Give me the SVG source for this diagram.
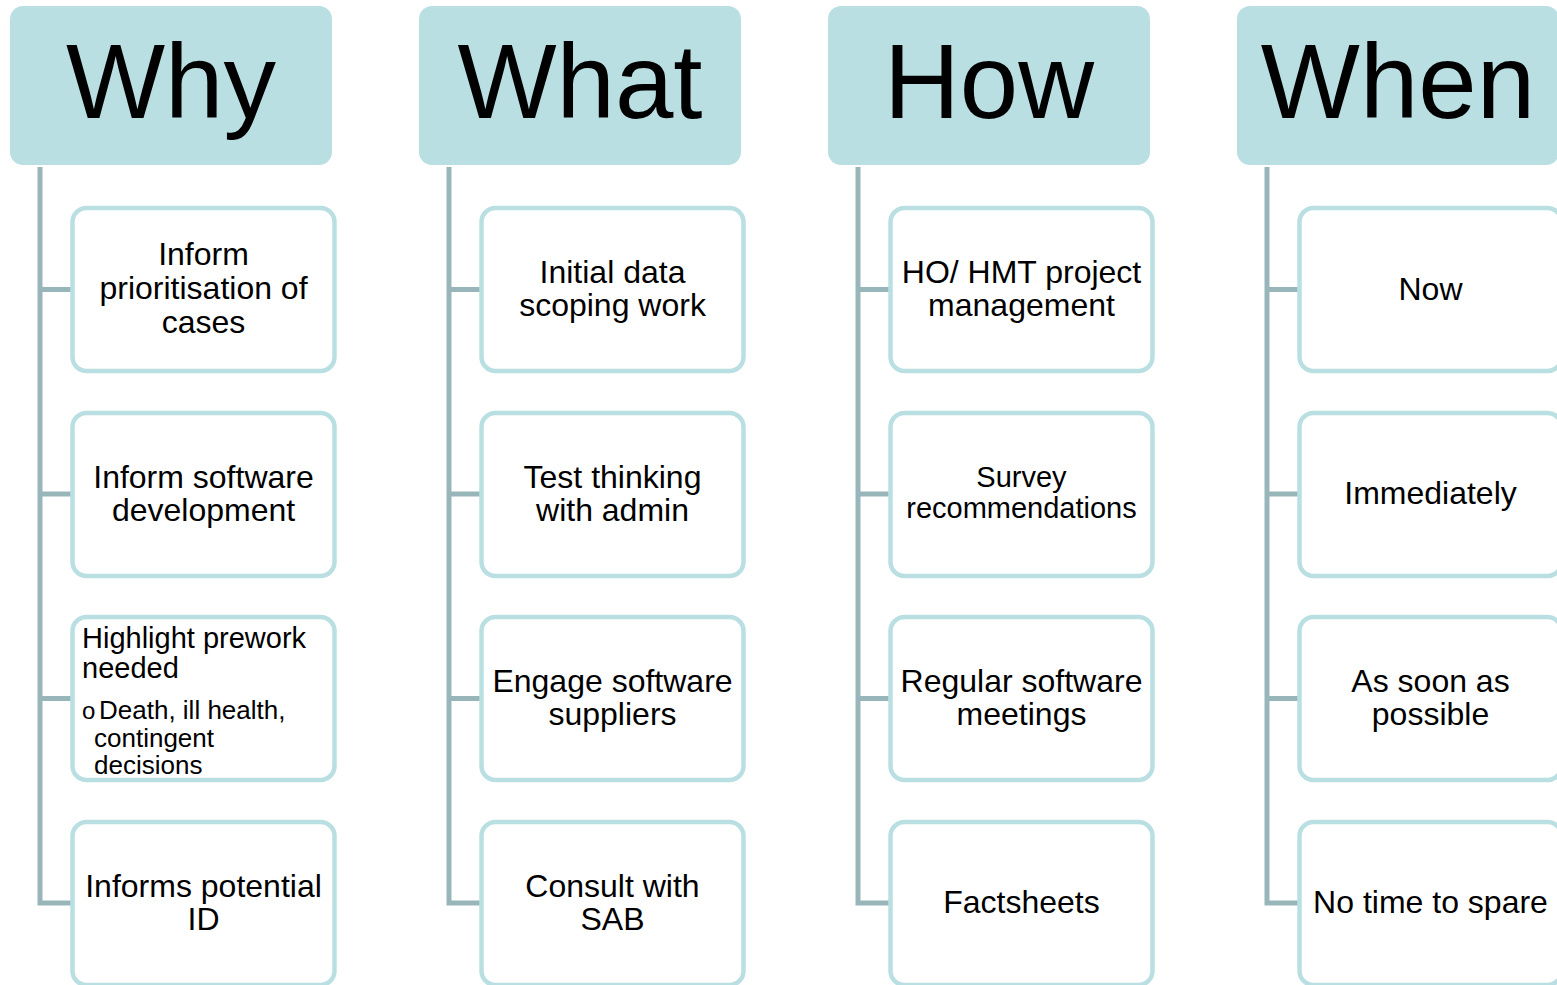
<svg xmlns="http://www.w3.org/2000/svg" width="1557" height="985" viewBox="0 0 1557 985">
<style>
.hdr{fill:#b9dfe3}
.hdrt{font-family:"Liberation Sans",Arial,sans-serif;font-size:105px;fill:#000;text-anchor:middle}
.box{fill:#fff;stroke:#b9dfe3;stroke-width:4.5}
.t{font-family:"Liberation Sans",Arial,sans-serif;font-size:32px;fill:#000;text-anchor:middle}
.t.sm{font-size:29px}
.s{font-family:"Liberation Sans",Arial,sans-serif;fill:#000}
.c{fill:none;stroke:#98b5b9;stroke-width:5}
</style>
<rect width="1557" height="985" fill="#fff"/>
<g id="connectors">
<path class="c" d="M40,167 V903 H73 M40,289.5 H73 M40,494 H73 M40,698.5 H73"/>
<path class="c" d="M449,167 V903 H482 M449,289.5 H482 M449,494 H482 M449,698.5 H482"/>
<path class="c" d="M858,167 V903 H891 M858,289.5 H891 M858,494 H891 M858,698.5 H891"/>
<path class="c" d="M1267,167 V903 H1300 M1267,289.5 H1300 M1267,494 H1300 M1267,698.5 H1300"/>
</g>
<g id="why"><rect class="hdr" x="10" y="6" width="322" height="159" rx="13"/><text class="hdrt" x="171" y="118">Why</text></g>
<g id="what"><rect class="hdr" x="419" y="6" width="322" height="159" rx="13"/><text class="hdrt" x="580" y="118">What</text></g>
<g id="how"><rect class="hdr" x="828" y="6" width="322" height="159" rx="13"/><text class="hdrt" x="989" y="118">How</text></g>
<g id="when"><rect class="hdr" x="1237" y="6" width="322" height="159" rx="13"/><text class="hdrt" x="1398" y="118">When</text></g>

<g id="why1"><rect class="box" x="72.5" y="208" width="262" height="163" rx="14"/><text class="t" x="203.5" y="265">Inform</text><text class="t" x="203.5" y="299">prioritisation of</text><text class="t" x="203.5" y="333">cases</text></g>
<g id="why2"><rect class="box" x="72.5" y="413" width="262" height="163" rx="14"/><text class="t" x="203.5" y="488">Inform software</text><text class="t" x="203.5" y="521">development</text></g>
<g id="why3"><rect class="box" x="72.5" y="617" width="262" height="163" rx="14"/><text class="s" x="82" y="648" font-size="29">Highlight prework</text><text class="s" x="82" y="678" font-size="29">needed</text><text class="s" x="82" y="719" font-size="24">o</text><text class="s" x="99" y="719" font-size="26">Death, ill health,</text><text class="s" x="94" y="747" font-size="26">contingent</text><text class="s" x="94" y="774" font-size="26">decisions</text></g>
<g id="why4"><rect class="box" x="72.5" y="822" width="262" height="163" rx="14"/><text class="t" x="203.5" y="897">Informs potential</text><text class="t" x="203.5" y="930">ID</text></g>

<g id="what1"><rect class="box" x="481.5" y="208" width="262" height="163" rx="14"/><text class="t" x="612.5" y="283">Initial data</text><text class="t" x="612.5" y="316">scoping work</text></g>
<g id="what2"><rect class="box" x="481.5" y="413" width="262" height="163" rx="14"/><text class="t" x="612.5" y="488">Test thinking</text><text class="t" x="612.5" y="521">with admin</text></g>
<g id="what3"><rect class="box" x="481.5" y="617" width="262" height="163" rx="14"/><text class="t" x="612.5" y="692">Engage software</text><text class="t" x="612.5" y="725">suppliers</text></g>
<g id="what4"><rect class="box" x="481.5" y="822" width="262" height="163" rx="14"/><text class="t" x="612.5" y="897">Consult with</text><text class="t" x="612.5" y="930">SAB</text></g>

<g id="how1"><rect class="box" x="890.5" y="208" width="262" height="163" rx="14"/><text class="t" x="1021.5" y="283">HO/ HMT project</text><text class="t" x="1021.5" y="316">management</text></g>
<g id="how2"><rect class="box" x="890.5" y="413" width="262" height="163" rx="14"/><text class="t sm" x="1021.5" y="487">Survey</text><text class="t sm" x="1021.5" y="518">recommendations</text></g>
<g id="how3"><rect class="box" x="890.5" y="617" width="262" height="163" rx="14"/><text class="t" x="1021.5" y="692">Regular software</text><text class="t" x="1021.5" y="725">meetings</text></g>
<g id="how4"><rect class="box" x="890.5" y="822" width="262" height="163" rx="14"/><text class="t" x="1021.5" y="913">Factsheets</text></g>

<g id="when1"><rect class="box" x="1299.5" y="208" width="262" height="163" rx="14"/><text class="t" x="1430.5" y="300">Now</text></g>
<g id="when2"><rect class="box" x="1299.5" y="413" width="262" height="163" rx="14"/><text class="t" x="1430.5" y="504">Immediately</text></g>
<g id="when3"><rect class="box" x="1299.5" y="617" width="262" height="163" rx="14"/><text class="t" x="1430.5" y="692">As soon as</text><text class="t" x="1430.5" y="725">possible</text></g>
<g id="when4"><rect class="box" x="1299.5" y="822" width="262" height="163" rx="14"/><text class="t" x="1430.5" y="913">No time to spare</text></g>
</svg>
